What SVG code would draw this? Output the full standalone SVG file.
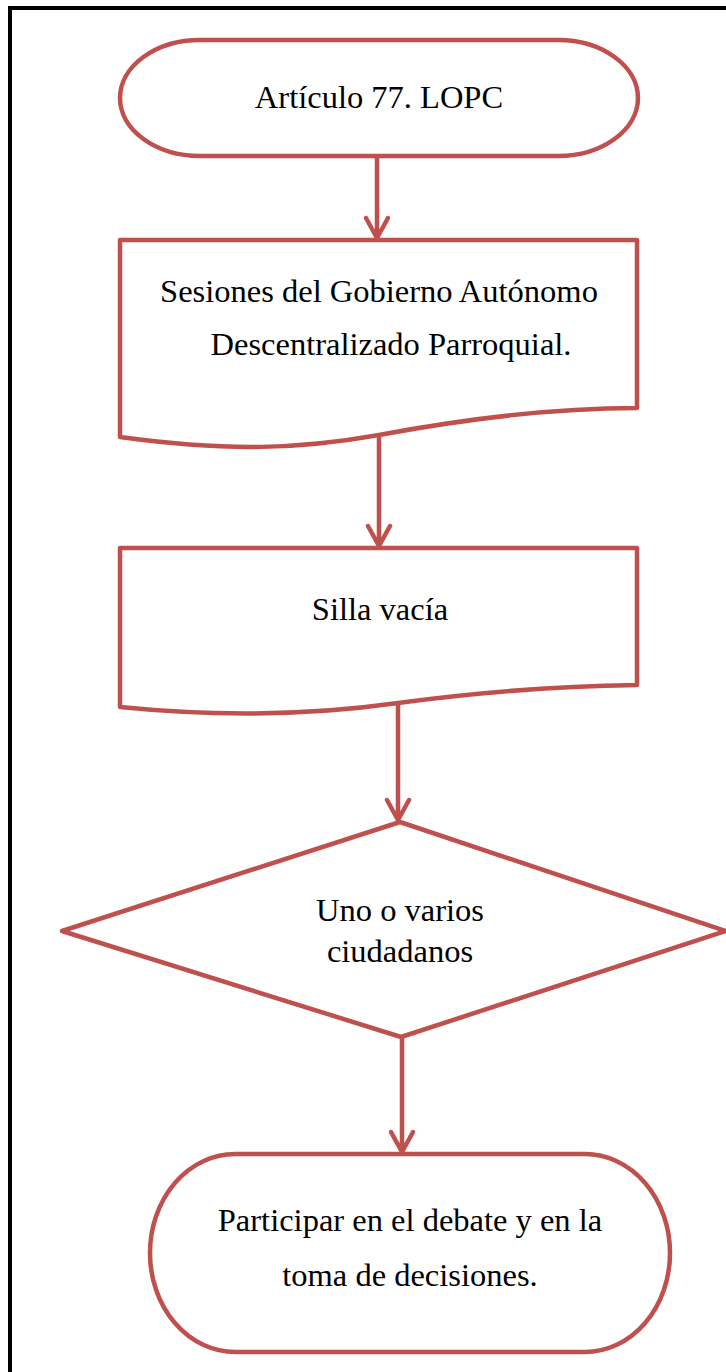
<svg xmlns="http://www.w3.org/2000/svg" width="726" height="1372" viewBox="0 0 726 1372">
<style>
.n{fill:#fff;stroke:#C0504D;stroke-width:4.5;stroke-linejoin:round}
.c{fill:none;stroke:#C0504D;stroke-width:4.5;stroke-linecap:round;stroke-linejoin:round}
.t{font-family:"Liberation Serif","Times New Roman",serif;font-size:32.5px;fill:#000;text-anchor:middle}
</style>
<rect width="726" height="1372" fill="#fff"/>
<path d="M10,1372 V8 H726" fill="none" stroke="#000" stroke-width="4"/>
<g id="n1">
<path class="n" d="M200,40 H558 A80,58 0 0 1 558,156 H200 A80,58 0 0 1 200,40 Z"/>
<text class="t" x="379" y="108">Artículo 77. LOPC</text>
</g>
<g id="n2">
<path class="n" d="M120,240 H637 V408 C560,408 470,418 379,435 C300,449 230,452 120,437 Z"/>
<text class="t" x="379" y="302">Sesiones del Gobierno Autónomo</text>
<text class="t" x="391" y="355">Descentralizado Parroquial.</text>
</g>
<g id="n3">
<path class="n" d="M120,548 H637 V685 C560,686 480,692 398,703 C320,714 230,718 120,707 Z"/>
<text class="t" x="380" y="620">Silla vacía</text>
</g>
<g id="n4">
<path class="n" d="M400,822 L726,931 L401,1037 L62,931 Z"/>
<text class="t" x="400" y="921">Uno o varios</text>
<text class="t" x="400" y="962">ciudadanos</text>
</g>
<g id="n5">
<path class="n" d="M235,1154 H585 A85,99 0 0 1 585,1352 H235 A85,99 0 0 1 235,1154 Z"/>
<text class="t" x="410" y="1231">Participar en el debate y en la</text>
<text class="t" x="410" y="1286">toma de decisiones.</text>
</g>
<g id="connectors">
<path class="c" d="M377,158 V238 M366,218 L377,238 L388,218"/>
<path class="c" d="M379,437 V546 M368,526 L379,546 L390,526"/>
<path class="c" d="M398,705 V820 M387,800 L398,820 L409,800"/>
<path class="c" d="M402,1039 V1152 M391,1132 L402,1152 L413,1132"/>
</g>
</svg>
